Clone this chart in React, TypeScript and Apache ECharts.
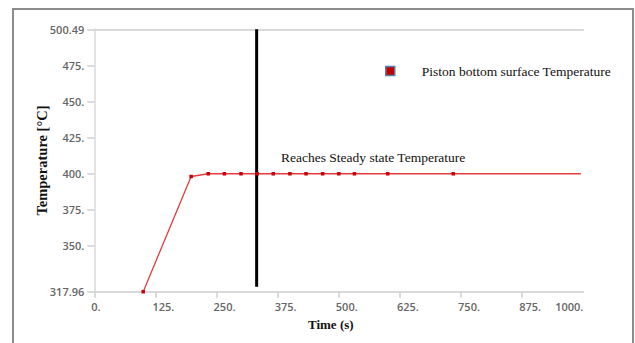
import React, { useEffect, useRef } from "react";
import * as echarts from "echarts";

const times = [100, 198, 233, 266, 300, 333, 366, 400, 433, 467, 500, 532, 600, 734, 995];
const temps = [317.96, 398.1, 400, 400, 400, 400, 400, 400, 400, 400, 400, 400, 400, 400, 400];
const steadyLineTime = [332, 332];
const steadyLineTemp = [500.49, 321.4];
const yTicks = [317.96, 350, 375, 400, 425, 450, 475, 500.49];
const xTicks = [0, 125, 250, 375, 500, 625, 750, 875, 1000];
const seriesName = "Piston bottom surface Temperature";
const annotation = "Reaches Steady state Temperature";

const fmt = (v: number) => (Number.isInteger(v) ? v + "." : String(v));

export default function App() {
  const ref = useRef<HTMLDivElement>(null);
  useEffect(() => {
    const chart = echarts.init(ref.current!, null, { renderer: "svg" });
    const last = times.length - 1;
    const labelStyle = {
      fontFamily: "Open Sans",
      fontSize: 11,
      fontWeight: 600,
      color: "#666666",
    };
    chart.setOption({
      animation: false,
      backgroundColor: "#ffffff",
      grid: { left: 94.3, right: 51.7, top: 29.3, bottom: 51.3, containLabel: false },
      legend: {
        left: 380,
        top: 59,
        icon: "rect",
        itemWidth: 9,
        itemHeight: 9,
        data: [
          {
            name: seriesName,
            itemStyle: { color: "#c00000", borderColor: "#5a7fa8", borderWidth: 1.5 },
          },
        ],
        textStyle: {
          fontFamily: "Liberation Serif",
          fontSize: 13.5,
          color: "#111",
          padding: [0, 0, 0, 22],
        },
      },
      xAxis: [
        {
          type: "value",
          min: 0,
          max: 1000,
          interval: 125,
          position: "bottom",
          name: "Time (s)",
          nameLocation: "middle",
          nameGap: 26,
          nameMoveOverlap: false,
          nameTextStyle: {
            fontFamily: "Liberation Serif",
            fontWeight: "bold",
            fontSize: 13,
            color: "#111",
            padding: [0, 16, 0, 0],
          },
          axisLine: { show: true, lineStyle: { color: "#d9d9d9", width: 2 } },
          axisTick: { show: true, length: 6, lineStyle: { color: "#cfcfcf", width: 1.5 } },
          splitLine: { show: false },
          axisLabel: {
            ...labelStyle,
            margin: 9,
            align: "left",
            padding: [0, 0, 0, -3],
            showMaxLabel: false,
            formatter: (v: number) => (v === 1000 ? "" : fmt(v)),
          },
        },
        {
          type: "value",
          min: 0,
          max: 1000,
          position: "bottom",
          axisLine: { show: false },
          axisTick: { show: false },
          splitLine: { show: false },
          axisLabel: {
            ...labelStyle,
            margin: 9,
            align: "right",
            customValues: [xTicks[xTicks.length - 1]],
            formatter: (v: number) => fmt(v),
          },
        },
        {
          type: "value",
          min: 0,
          max: 1000,
          position: "top",
          axisLine: { show: true, lineStyle: { color: "#d9d9d9", width: 2 } },
          axisTick: { show: false },
          axisLabel: { show: false },
          splitLine: { show: false },
        },
      ],
      yAxis: {
        type: "value",
        min: yTicks[0],
        max: yTicks[yTicks.length - 1],
        name: "Temperature [°C]",
        nameLocation: "middle",
        nameGap: 45,
        nameMoveOverlap: false,
        nameTextStyle: {
          fontFamily: "Liberation Serif",
          fontWeight: "bold",
          fontSize: 14.5,
          color: "#111",
        },
        axisLine: { show: true, lineStyle: { color: "#e3e3e3", width: 2 } },
        axisTick: {
          show: true,
          length: 7,
          customValues: yTicks,
          lineStyle: { color: "#cfcfcf", width: 1.5 },
        },
        splitLine: { show: false },
        axisLabel: {
          ...labelStyle,
          margin: 10,
          customValues: yTicks,
          formatter: (v: number) => fmt(v),
        },
      },
      graphic: [
        {
          type: "rect",
          shape: { x: 13, y: 9, width: 620, height: 345 },
          style: { fill: "none", stroke: "#8c8c8c", lineWidth: 2 },
          silent: true,
        },
        {
          type: "text",
          x: 281,
          y: 157,
          style: {
            text: annotation,
            fontFamily: "Liberation Serif",
            fontSize: 13.5,
            fill: "#111",
            verticalAlign: "middle",
          },
        },
      ],
      series: [
        {
          name: seriesName,
          type: "line",
          xAxisIndex: 0,
          data: times.map((t, i) => [t, temps[i]]),
          symbol: "rect",
          symbolSize: (_v: any, p: any) => (p.dataIndex === last ? 0 : 3.5),
          lineStyle: { color: "#e33b40", width: 1.3 },
          itemStyle: { color: "#c8000a" },
        },
        {
          name: "steady",
          type: "line",
          xAxisIndex: 0,
          data: steadyLineTime.map((t, i) => [t, steadyLineTemp[i]]),
          symbol: "none",
          lineStyle: { color: "#000", width: 3 },
        },
      ],
    });
    return () => chart.dispose();
  }, []);
  return (
    <div
      ref={ref}
      style={{ position: "fixed", left: 0, top: 0, width: 635, height: 343 }}
    />
  );
}
